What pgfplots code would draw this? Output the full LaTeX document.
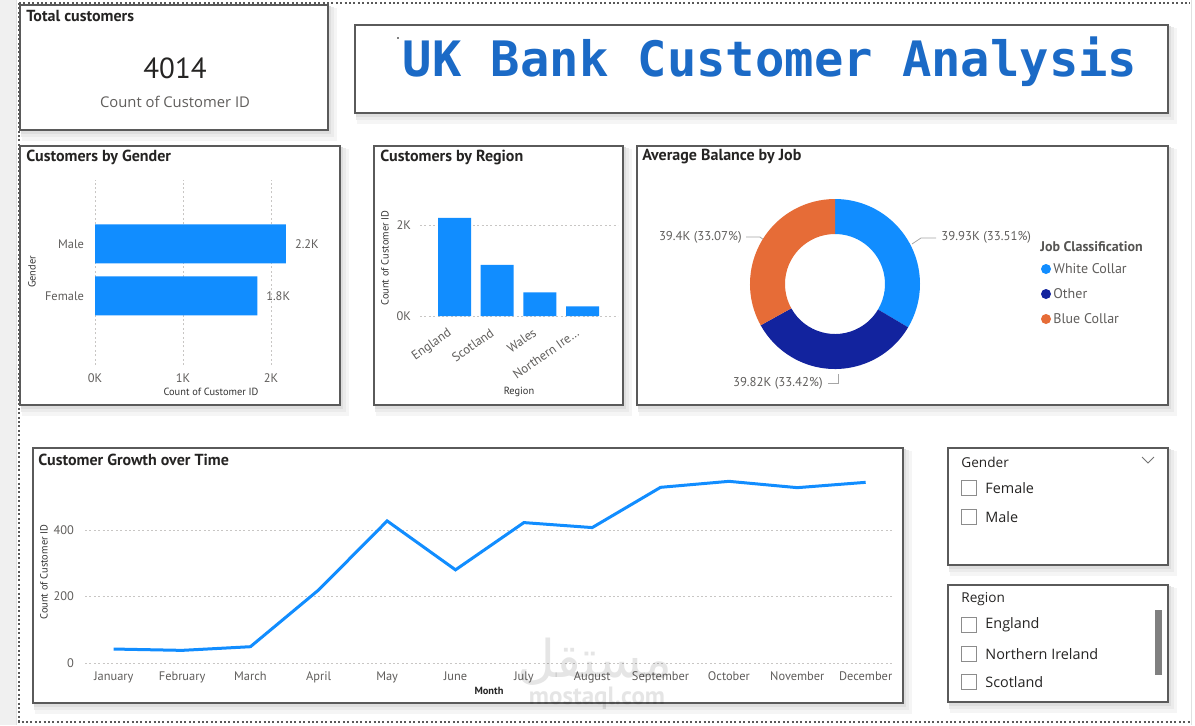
\documentclass[border=0pt]{standalone}
\usepackage{pgfplots}
\pgfplotsset{compat=1.18}
\usepackage{fontspec}
\setmainfont{Open Sans}
\newfontfamily\din{PT Sans}
\newfontfamily\mono{DejaVu Sans Mono}
\newfontfamily\arabicfont[Script=Arabic]{DejaVu Sans}
\TeXXeTstate=1
\definecolor{pbblue}{HTML}{118DFF}
\definecolor{pbnavy}{HTML}{12239E}
\definecolor{pborange}{HTML}{E66C37}
\definecolor{ttlblue}{HTML}{1B6AC6}
\definecolor{txtdark}{HTML}{252423}
\definecolor{txtgray}{HTML}{605E5C}
\definecolor{gridc}{HTML}{C8C6C4}
\definecolor{framec}{HTML}{5A5A5A}
\newcommand{\panel}[4]{%
 \fill[black!4] ({#1+2},{#2+3}) rectangle ({#3+9},{#4+11});
 \fill[black!8] ({#1+1},{#2+2}) rectangle ({#3+6},{#4+7});
 \fill[black!13] ({#1+1},{#2+1}) rectangle ({#3+3},{#4+4});
 \filldraw[fill=white,draw=framec,line width=0.6pt] (#1,#2) rectangle (#3,#4);}
\newcommand{\ttl}{\din\bfseries\fontsize{8}{9.6}\selectfont}
\newcommand{\tck}{\din\fontsize{6.2}{7.4}\selectfont}
\newcommand{\axt}{\din\fontsize{5.2}{6.2}\selectfont}
\newcommand{\seg}{\fontsize{7.2}{8.6}\selectfont}
\pgfplotsset{
  /pgf/number format/assume math mode=true,
  every tick label/.append style={font=\tck, text=txtgray},
  pbstyle/.style={scale only axis, anchor=south west,
    axis line style={draw=none}, major tick length=0pt,
    grid style={gridc, dash pattern=on 1pt off 1.2pt, line width=0.4pt}},
}
% donut data (average balance, K)
\def\vW{39.93}\def\vO{39.82}\def\vB{39.40}
\begin{document}
\begin{tikzpicture}
\pgfmathsetmacro{\tot}{\vW+\vO+\vB}
\pgfmathsetmacro{\aB}{90-360*\vW/\tot}
\pgfmathsetmacro{\aC}{\aB-360*\vO/\tot}
\begin{scope}[x=0.5pt,y=-0.5pt]
\useasboundingbox (0,0) rectangle (1195,725);
\fill[white] (0,0) rectangle (1195,725);
\fill[black!6] (0,0) rectangle (16,725);
\draw[black!12] (16,0) -- (16,725);
\draw[black!12] (1191,0) -- (1191,725);
\draw[black!65, dash pattern=on 1pt off 1.2pt, line width=0.6pt] (19,3) -- (1190,3);
\draw[black!65, dash pattern=on 1pt off 1.2pt, line width=0.6pt] (19,3) -- (19,722) -- (1190,722);
% panels
\panel{20}{5}{328}{130}
\panel{355}{25}{1168}{113}
\panel{20}{146}{340}{405}
\panel{374}{146}{623}{405}
\panel{637}{146}{1168}{405}
\panel{33}{448}{903}{703}
\panel{948}{448}{1168}{565}
\panel{948}{585}{1168}{702}
% card
\node[anchor=west, text=txtdark, inner sep=0] at (26,16) {\ttl Total customers};
\node[text=txtdark] at (175,68) {\din\fontsize{14.5}{17}\selectfont 4014};
\node[text=txtgray] at (175,102) {\fontsize{7.4}{9}\selectfont Count of Customer ID};
% title
\fill[black] (398,38) circle (0.9);
\node[text=ttlblue] at (770,62) {\mono\bfseries\fontsize{24.4}{28}\selectfont UK Bank Customer Analysis};
% chart titles
\node[anchor=west, text=txtdark, inner sep=0] at (26,157) {\ttl Customers by Gender};
\node[anchor=west, text=txtdark, inner sep=0] at (380,157) {\ttl Customers by Region};
\node[anchor=west, text=txtdark, inner sep=0] at (642,157) {\ttl Average Balance by Job};
\node[anchor=west, text=txtdark, inner sep=0] at (38,460) {\ttl Customer Growth over Time};
% axis titles
\node[rotate=90, text=black!80] at (32,272) {\axt Gender};
\node[text=black!80] at (211,392) {\axt Count of Customer ID};
\node[rotate=90, text=black!80] at (385,258) {\axt Count of Customer ID};
\node[text=black!80] at (519,392) {\axt Region};
\node[rotate=90, text=black!80] at (44,572) {\axt Count of Customer ID};
\node[text=black!85] at (489,691) {\axt\bfseries Month};
% donut labels
\draw[black!35, line width=0.4pt] (912,244) -- (921,238) -- (936,238);
\node[anchor=west, text=txtgray, inner sep=0] at (941,237) {\din\fontsize{6.4}{7.6}\selectfont 39.93K (33.51\%)};
\draw[black!35, line width=0.4pt] (746,237) -- (760,237) -- (768,243);
\node[anchor=east, text=txtgray, inner sep=0] at (742,237) {\din\fontsize{6.4}{7.6}\selectfont 39.4K (33.07\%)};
\draw[black!35, line width=0.4pt] (828,383) -- (838,383) -- (838,374);
\node[anchor=east, text=txtgray, inner sep=0] at (823,383) {\din\fontsize{6.4}{7.6}\selectfont 39.82K (33.42\%)};
% legend
\node[anchor=west, text=txtgray!90!black, inner sep=0] at (1040,247) {\din\bfseries\fontsize{7}{8.4}\selectfont Job Classification};
\fill[pbblue] (1046,269) circle (5);
\fill[pbnavy] (1046,294) circle (5);
\fill[pborange] (1046,319) circle (5);
\node[anchor=west, text=txtgray, inner sep=0] at (1053,269) {\din\fontsize{7}{8.4}\selectfont White Collar};
\node[anchor=west, text=txtgray, inner sep=0] at (1053,294) {\din\fontsize{7}{8.4}\selectfont Other};
\node[anchor=west, text=txtgray, inner sep=0] at (1053,319) {\din\fontsize{7}{8.4}\selectfont Blue Collar};
% slicers
\node[anchor=west, text=txtdark, inner sep=0] at (961,462) {\seg\fontsize{6.8}{8}\selectfont Gender};
\draw[black!55, line width=0.4pt] (1142,457) -- (1148,463) -- (1154,457);
\draw[black!45, line width=0.5pt] (961,480) rectangle (976,495);
\node[anchor=west, text=txtdark, inner sep=0] at (985,488) {\seg Female};
\draw[black!45, line width=0.5pt] (961,509) rectangle (976,524);
\node[anchor=west, text=txtdark, inner sep=0] at (985,517) {\seg Male};
\node[anchor=west, text=txtdark, inner sep=0] at (961,599) {\seg\fontsize{6.8}{8}\selectfont Region};
\draw[black!45, line width=0.5pt] (961,617) rectangle (976,632);
\node[anchor=west, text=txtdark, inner sep=0] at (985,625) {\seg England};
\draw[black!45, line width=0.5pt] (961,646) rectangle (976,661);
\node[anchor=west, text=txtdark, inner sep=0] at (985,654) {\seg Northern Ireland};
\draw[black!45, line width=0.5pt] (961,674) rectangle (976,689);
\node[anchor=west, text=txtdark, inner sep=0] at (985,682) {\seg Scotland};
\fill[black!50] (1155,610) rectangle (1162,675);
\end{scope}

% ---- Customers by Gender ----
\begin{axis}[pbstyle, at={(47.5pt,-182.5pt)}, width=110pt, height=92.5pt,
  xbar, bar width=19.5pt, xmin=0, xmax=2.5, ymin=-1.33, ymax=2.23,
  xtick={0,1,2}, xticklabels={0K,1K,2K},
  ytick={0,1}, yticklabels={Female,Male},
  xmajorgrids, xticklabel style={yshift=-0.8pt}, yticklabel style={xshift=-2pt},
  point meta=x,
  nodes near coords={\pgfmathprintnumber[fixed,precision=1,fixed zerofill]{\pgfplotspointmeta}K},
  nodes near coords style={font=\tck, text=txtgray, anchor=west, xshift=1pt}]
\addplot[fill=pbblue, draw=none] coordinates {(1.844,0) (2.170,1)};
\end{axis}

% ---- Customers by Region ----
\begin{axis}[pbstyle, at={(210pt,-158pt)}, width=99pt, height=58pt,
  ybar, bar width=16.5pt, xmin=-0.81, xmax=3.83, ymin=0, ymax=2.55,
  xtick={0,1,2,3}, xticklabels={England,Scotland,Wales,{Northern Ire\ldots}},
  xticklabel style={rotate=35, anchor=north east, xshift=-3pt, yshift=1pt, font=\din\fontsize{6.4}{7.6}\selectfont},
  ytick={0,2}, yticklabels={0K,2K}, ymajorgrids, yticklabel style={xshift=-1pt}]
\addplot[fill=pbblue, draw=none] coordinates {(0,2.159) (1,1.126) (2,0.519) (3,0.210)};
\end{axis}

% ---- Average Balance by Job (donut) ----
\begin{axis}[at={(417.5pt,-142pt)}, anchor=center, scale only axis, width=100pt, height=100pt,
  hide axis, xmin=-1, xmax=1, ymin=-1, ymax=1]
\addplot[draw=none] coordinates {(0,0)};
\begin{scope}[shift={(axis cs:0,0)}]
\fill[pbblue] (90:42.5pt) arc[start angle=90, end angle=\aB, radius=42.5pt] -- (\aB:25pt) arc[start angle=\aB, end angle=90, radius=25pt] -- cycle;
\fill[pbnavy] (\aB:42.5pt) arc[start angle=\aB, end angle=\aC, radius=42.5pt] -- (\aC:25pt) arc[start angle=\aC, end angle=\aB, radius=25pt] -- cycle;
\fill[pborange] (\aC:42.5pt) arc[start angle=\aC, end angle=-270, radius=42.5pt] -- (-270:25pt) arc[start angle=-270, end angle=\aC, radius=25pt] -- cycle;
\end{scope}
\end{axis}

% ---- Customer Growth over Time ----
\begin{axis}[pbstyle, at={(42.5pt,-331.5pt)}, width=404pt, height=94pt,
  xmin=-0.42, xmax=11.4, ymin=0, ymax=565,
  xtick={0,...,11},
  xticklabels={January,February,March,April,May,June,July,August,September,October,November,December},
  ytick={0,200,400}, ymajorgrids, xticklabel style={yshift=-0.8pt}, yticklabel style={xshift=-2pt}]
\addplot[pbblue, line width=1.5pt] coordinates {
 (0,42) (1,38) (2,49) (3,220) (4,427) (5,280) (6,422) (7,407) (8,528) (9,546) (10,527) (11,543)};
\end{axis}

% watermark
\begin{scope}[x=0.5pt,y=-0.5pt]
\node[text=black, opacity=0.1] at (595,662) {\arabicfont\fontsize{26}{30}\selectfont\beginR مستقل\endR};
\node[text=black, opacity=0.1] at (597,698) {\din\bfseries\fontsize{12.5}{14}\selectfont mostaql.com};
\end{scope}
\end{tikzpicture}
\end{document}
